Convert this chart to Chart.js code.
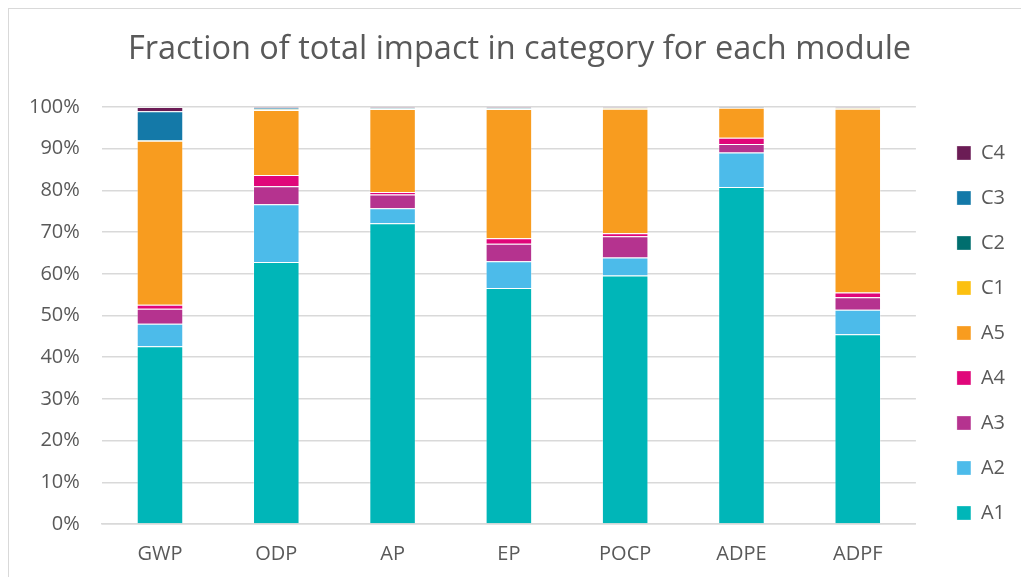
<!DOCTYPE html>
<html>
<head>
<meta charset="utf-8">
<script src="https://cdn.jsdelivr.net/npm/chart.js@4/dist/chart.umd.min.js"></script>
<style>
  html, body { margin: 0; padding: 0; background: #ffffff; }
  #wrap { position: relative; width: 1021px; height: 577px; overflow: hidden; }
  #frame { position: absolute; left: 8px; top: 8px; width: 1040px; height: 600px; border: 1.5px solid #d9d9d9; box-sizing: border-box; }
  canvas { position: absolute; left: 0; top: 0; }
</style>
</head>
<body>
<div id="wrap">
  <div id="frame"></div>
  <canvas id="c" width="1021" height="577"></canvas>
</div>
<script>
const categories = ['GWP', 'ODP', 'AP', 'EP', 'POCP', 'ADPE', 'ADPF'];
const seriesNames = ['A1', 'A2', 'A3', 'A4', 'A5', 'C1', 'C2', 'C3', 'C4'];
const A1 = [42.6, 62.8, 72.1, 56.6, 59.6, 80.8, 45.5];
const A2 = [5.4, 13.9, 3.6, 6.4, 4.3, 8.3, 5.9];
const A3 = [3.6, 4.3, 3.3, 4.2, 5.1, 2.0, 3.0];
const A4 = [1.0, 2.7, 0.6, 1.3, 0.7, 1.5, 1.1];
const A5 = [39.3, 15.6, 19.9, 31.0, 29.9, 7.2, 44.1];
const C1 = [0.0, 0.1, 0.1, 0.1, 0.1, 0.05, 0.1];
const C2 = [0.1, 0.1, 0.1, 0.1, 0.1, 0.05, 0.1];
const C3 = [7.0, 0.3, 0.1, 0.1, 0.1, 0.05, 0.1];
const C4 = [1.0, 0.2, 0.2, 0.2, 0.1, 0.05, 0.1];
const yTicks = [0, 10, 20, 30, 40, 50, 60, 70, 80, 90, 100];

const seriesValues = [A1, A2, A3, A4, A5, C1, C2, C3, C4];
const colors = ['#00b6b8', '#4cbbea', '#b5338f', '#e0067a', '#f89c1f', '#fcc010', '#006e6e', '#1479a8', '#6b1c55'];

const datasets = seriesNames.map((name, i) => ({
  label: name,
  data: seriesValues[i],
  backgroundColor: colors[i],
  borderColor: 'rgba(255,255,255,0.3)',
  borderWidth: 1,
  barPercentage: 0.4,
  categoryPercentage: 1.0
}));

const placeBlocks = {
  id: 'placeBlocks',
  beforeDraw(chart) {
    if (chart.legend) {
      chart.legend.left = chart.chartArea.right + 16;
      chart.legend.right = chart.width;
      chart.legend.top = 118;
      chart.legend.bottom = chart.height;
    }
    if (chart.titleBlock) {
      chart.titleBlock.left = 39;
      chart.titleBlock.right = 1000;
    }
  }
};

new Chart(document.getElementById('c'), {
  type: 'bar',
  data: { labels: categories, datasets },
  plugins: [placeBlocks],
  options: {
    responsive: false,
    animation: false,
    layout: { padding: { left: 7, right: 22, top: 0, bottom: -7 } },
    plugins: {
      title: {
        display: true,
        text: 'Fraction of total impact in category for each module',
        color: '#595959',
        font: { family: 'Open Sans', size: 32.5, weight: 'normal' },
        padding: { top: 30.5, bottom: 37.5 }
      },
      legend: {
        position: 'right',
        reverse: true,
        align: 'start',
        labels: {
          boxWidth: 14,
          boxHeight: 14,
          padding: 25,
          color: '#595959',
          font: { family: 'Open Sans', size: 20 }
        }
      },
      tooltip: { enabled: false }
    },
    scales: {
      x: {
        stacked: true,
        grid: { display: false, drawTicks: false },
        border: { display: true, color: '#d9d9d9', width: 1.5 },
        ticks: { color: '#595959', font: { family: 'Open Sans', size: 20 }, padding: 18 }
      },
      y: {
        stacked: true,
        min: 0,
        max: 100,
        afterBuildTicks(axis) { axis.ticks = yTicks.map(v => ({ value: v })); },
        grid: { color: '#d9d9d9', lineWidth: 1.5, drawTicks: false },
        border: { display: false },
        ticks: {
          color: '#595959',
          font: { family: 'Open Sans', size: 20 },
          padding: 22,
          callback: v => v + '%'
        }
      }
    }
  }
});
</script>
</body>
</html>
